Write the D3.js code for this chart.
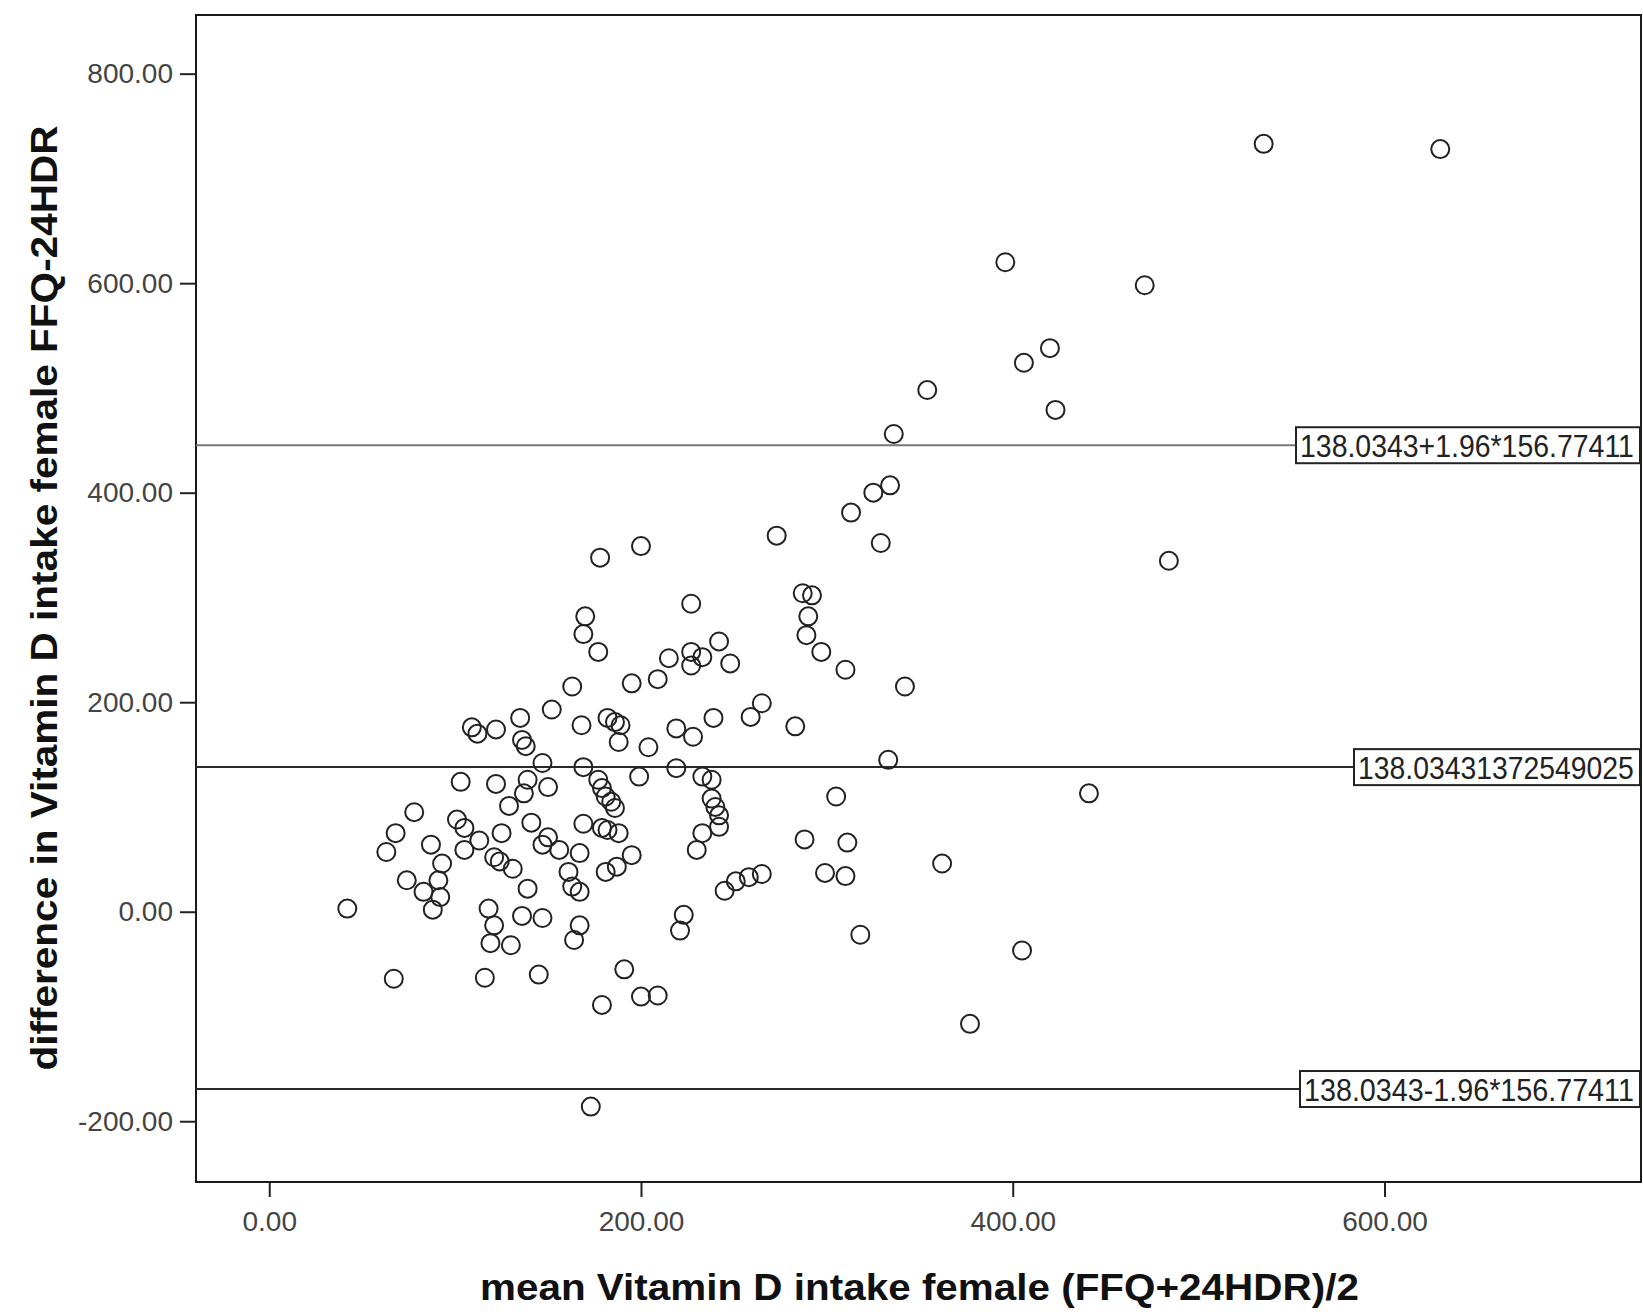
<!DOCTYPE html>
<html>
<head>
<meta charset="utf-8">
<script src="https://cdn.jsdelivr.net/npm/d3@7"></script>
<style>
  html, body { margin: 0; padding: 0; background: #fff; }
  svg { display: block; }
</style>
</head>
<body>
<svg id="chart" width="1643" height="1316"></svg>
<script>
// Bland-Altman data: mean of the two methods (x) and FFQ minus 24HDR (y)
const meanIntake = [
  535, 630, 396, 471, 420, 406, 354, 423, 336, 334, 325, 313, 329, 273, 200, 178, 484,
  287, 292, 290, 289, 297, 310, 342,
  170, 169, 177, 227, 242, 227, 233, 227, 248, 215, 209, 195, 163,
  152, 168, 182, 186, 189, 188, 204, 219, 228, 239, 259, 265, 283,
  333, 441, 305,
  219, 233, 238, 238, 240, 242, 242, 233, 230, 199,
  288, 311, 299, 310, 265, 258, 251, 245,
  195, 187, 181, 362,
  318, 405, 377, 223, 221, 191, 200, 209, 179, 173,
  42, 67, 116, 145,
  135, 109, 112, 122, 136, 138, 147, 103, 122, 139, 150, 137, 129, 78, 101, 105, 125, 141,
  68, 113, 105, 87, 150, 147, 156, 63, 121, 124, 131, 93, 91, 74, 83, 92, 139, 88, 118,
  136, 147, 121, 119, 130,
  169, 177, 179, 181, 184, 186, 169, 179, 182, 188, 167, 161, 163, 167, 167, 164
];
const difference = [
  733, 728, 620, 598, 538, 524, 498, 479, 456, 407, 400, 381, 352, 359, 349, 338, 335,
  304, 302, 282, 264, 248, 231, 215,
  282, 265, 248, 294, 258, 248, 243, 235, 237, 242, 222, 218, 215,
  193, 178, 185, 181, 178, 162, 157, 175, 167, 185, 186, 199, 177,
  145, 113, 110,
  137, 129, 126, 108, 100, 92, 81, 75, 59, 129,
  69, 66, 37, 34, 36, 33, 29, 20,
  54, 43, 38, 46,
  -22, -37, -107, -3, -18, -55, -81, -80, -89, -186,
  3, -64, -63, -60,
  185, 176, 170, 174, 164, 158, 142, 124, 122, 126, 119, 113, 101, 95, 88, 80, 75, 85,
  75, 68, 59, 64, 71, 64, 59, 57, 52, 48, 41, 46, 30, 30, 19, 14, 22, 2, 3,
  -4, -6, -13, -30, -32,
  138, 126, 118, 110, 105, 99, 84, 80, 78, 75, 56, 38, 24, 19, -13, -27
];

// Mean difference and standard deviation of the differences
const meanDifference = 138.03431372549025;
const sdDifference = 156.77411;
const limitLabels = ["138.0343+1.96*156.77411", "138.03431372549025", "138.0343-1.96*156.77411"];

const xTicks = [0, 200, 400, 600];
const yTicks = [-200, 0, 200, 400, 600, 800];
const xTitle = "mean Vitamin D intake female (FFQ+24HDR)/2";
const yTitle = "difference in Vitamin D intake female FFQ-24HDR";

const svg = d3.select("#chart");
const plot = { left: 196, right: 1641, top: 15, bottom: 1182 };

const x = d3.scaleLinear().domain([-39.4, 738]).range([plot.left, plot.right]);
const y = d3.scaleLinear().domain([-258, 856]).range([plot.bottom, plot.top]);

// plain hyphen for negative numbers
const fmt = v => d3.format(".2f")(v).replace("\u2212", "-");
const baseFont = "'Liberation Sans', Arial, sans-serif";

// Squeeze a text element horizontally to a target width, anchored at its left x
function fitWidth(sel, left, width) {
  const natural = sel.node().getComputedTextLength();
  const k = width / natural;
  sel.attr("x", 0).attr("transform", `translate(${left},${sel.attr("y")}) scale(${k},1)`).attr("y", 0);
}

// Axes
const yAxis = svg.append("g")
  .attr("transform", `translate(${plot.left},0)`)
  .call(d3.axisLeft(y).tickValues(yTicks).tickFormat(fmt).tickSize(16).tickPadding(7));
const xAxis = svg.append("g")
  .attr("transform", `translate(0,${plot.bottom})`)
  .call(d3.axisBottom(x).tickValues(xTicks).tickFormat(fmt).tickSize(15).tickPadding(14));

[yAxis, xAxis].forEach(g => {
  g.select(".domain").remove();
  g.selectAll(".tick line").attr("stroke", "#222").attr("stroke-width", 2);
  g.selectAll(".tick text")
    .attr("fill", "#444")
    .style("font-family", baseFont)
    .style("font-size", "28px");
});

// Frame
svg.append("rect")
  .attr("x", plot.left).attr("y", plot.top)
  .attr("width", plot.right - plot.left).attr("height", plot.bottom - plot.top)
  .attr("fill", "none").attr("stroke", "#1a1a1a").attr("stroke-width", 2);

// Mean and limits of agreement
const refLines = [
  { value: meanDifference + 1.96 * sdDifference, label: limitLabels[0], width: 334, color: "#777" },
  { value: meanDifference, label: limitLabels[1], width: 276, color: "#2a2a2a" },
  { value: meanDifference - 1.96 * sdDifference, label: limitLabels[2], width: 330, color: "#2a2a2a" }
];

const refG = svg.append("g");
refLines.forEach(d => {
  const yy = y(d.value);
  const boxRight = plot.right - 1;
  const boxLeft = boxRight - d.width - 10;
  refG.append("line")
    .attr("x1", plot.left).attr("x2", boxLeft)
    .attr("y1", yy).attr("y2", yy)
    .attr("stroke", d.color).attr("stroke-width", 2);
  refG.append("rect")
    .attr("x", boxLeft).attr("y", yy - 18)
    .attr("width", boxRight - boxLeft).attr("height", 36)
    .attr("fill", "#fff").attr("stroke", "#222").attr("stroke-width", 2);
  const t = refG.append("text")
    .attr("y", yy + 12)
    .attr("fill", "#222")
    .style("font-family", baseFont)
    .style("font-size", "32px")
    .text(d.label);
  fitWidth(t, boxLeft + 4, d.width);
});

// Points
svg.append("g")
  .selectAll("circle")
  .data(d3.range(meanIntake.length))
  .join("circle")
  .attr("cx", i => x(meanIntake[i]))
  .attr("cy", i => y(difference[i]))
  .attr("r", 9)
  .attr("fill", "none")
  .attr("stroke", "#222")
  .attr("stroke-width", 2);

// Axis titles
const xt = svg.append("text")
  .attr("y", 1300)
  .attr("fill", "#111")
  .style("font-family", baseFont)
  .style("font-weight", "bold")
  .style("font-size", "37px")
  .text(xTitle);
fitWidth(xt, 480, 879);

svg.append("text")
  .attr("transform", "translate(57,598) rotate(-90)")
  .attr("text-anchor", "middle")
  .attr("textLength", 945).attr("lengthAdjust", "spacingAndGlyphs")
  .attr("fill", "#111")
  .style("font-family", baseFont)
  .style("font-weight", "bold")
  .style("font-size", "36px")
  .text(yTitle);
</script>
</body>
</html>
